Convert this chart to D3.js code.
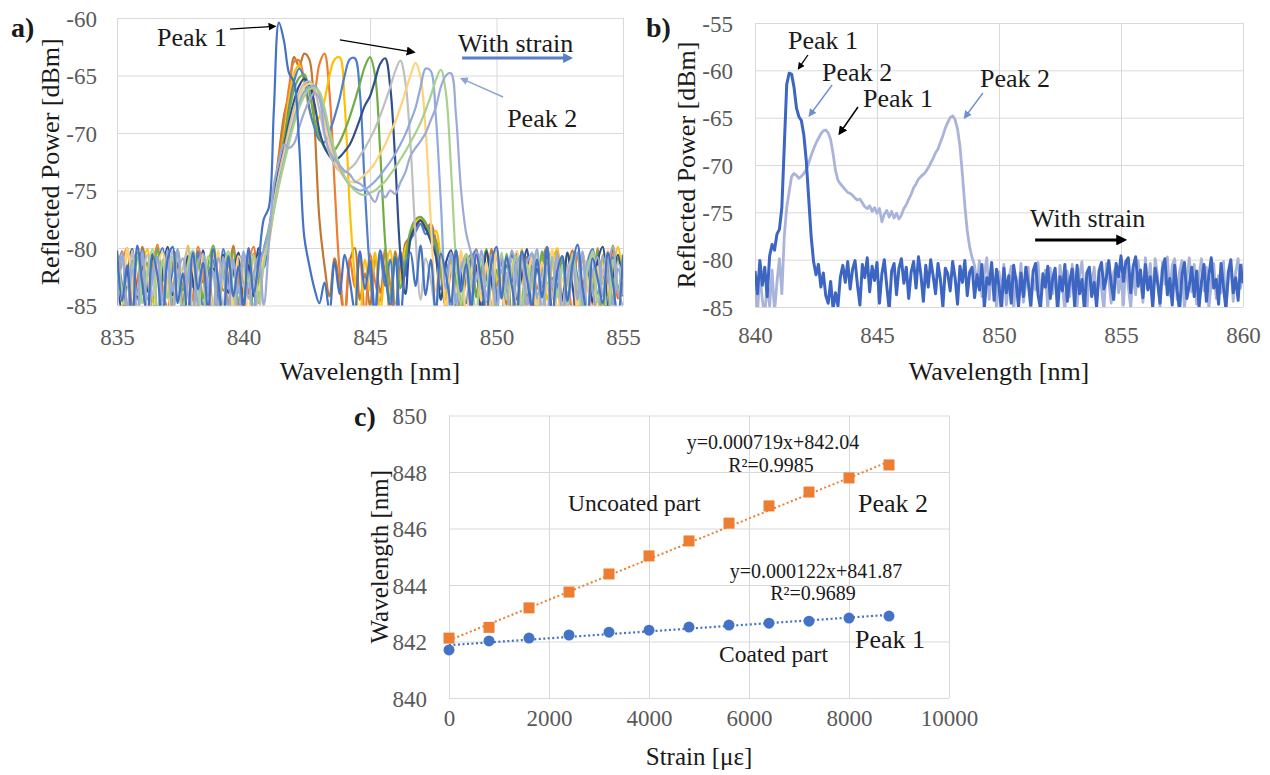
<!DOCTYPE html>
<html>
<head>
<meta charset="utf-8">
<script src="https://cdn.jsdelivr.net/npm/d3@7"></script>
<style>
  html, body { margin: 0; padding: 0; background: #ffffff; }
  svg text { font-family: "Liberation Serif", "Times New Roman", serif; }
</style>
</head>
<body>
<svg id="fig" width="1270" height="775"></svg>
<script>
// ---------------- Panel a: reflection spectra under increasing strain ----------------
const specAStart = 835, specAStep = 0.2;   // nm, sampling of the spectra in panel a
const specAColors = ["#4472C4", "#C0782E", "#ED7D31", "#FFC000", "#4F7FCB", "#70AD47",
                     "#2F4F8F", "#BFBFBF", "#FFD27A", "#8FAADC", "#A9D18E", "#9EAAD6"];

const specA0 = [
 -80.2,-84.6,-81.5,-86.5,-79.8,-83.1,-85.9,-80.6,-82.4,-87.0,
 -81.0,-79.9,-84.8,-82.2,-86.1,-80.4,-83.6,-81.3,-85.5,-80.1,
 -82.9,-86.4,-80.7,-84.2,-81.6,-85.3,-80.0,-83.9,-81.2,-77.5,
 -76.5,-68.0,-60.4,-62.0,-64.8,-65.6,-71.0,-79.0,-81.5,-83.5,
 -84.8,-83.0,-85.5,-81.2,-84.0,-80.6,-82.8,-85.4,-80.3,-83.6,
 -81.1,-85.8,-80.2,-82.5,-84.9,-80.8,-86.2,-81.7,-80.4,-83.3,
 -79.8,-84.1,-81.0,-85.6,-80.5,-82.3,-84.7,-80.2,-83.8,-81.4,
 -85.2,-80.6,-82.9,-86.0,-81.3,-79.9,-84.4,-80.8,-83.2,-85.7,
 -80.3,-82.6,-85.1,-81.0,-84.3,-80.1,-86.3,-82.0,-80.7,-84.6,
 -81.5,-79.7,-83.4,-85.9,-80.9,-82.7,-84.8,-80.4,-83.0,-86.1,
 -80.6];
const specA1 = [
 -82.1,-80.3,-85.7,-81.8,-84.4,-79.9,-82.6,-86.8,-80.9,-83.5,
 -85.2,-81.4,-80.2,-84.9,-82.0,-87.1,-80.6,-83.0,-81.9,-85.8,
 -80.4,-83.7,-82.3,-79.8,-85.4,-81.1,-84.0,-80.5,-82.7,-80.4,
 -78.6,-75.5,-71.8,-68.5,-66.5,-63.4,-64.2,-63.1,-63.6,-69.0,
 -77.5,-81.5,-84.2,-80.9,-83.3,-86.0,-81.2,-80.0,-84.5,-82.2,
 -85.1,-80.7,-83.9,-81.5,-86.4,-80.3,-82.8,-79.6,-79.0,-78.2,
 -77.6,-78.4,-77.9,-79.3,-80.8,-84.6,-81.9,-80.2,-85.3,-82.5,
 -80.9,-84.0,-81.6,-86.2,-80.1,-83.3,-82.0,-85.0,-80.4,-81.8,
 -84.7,-80.8,-82.4,-86.6,-81.3,-79.9,-83.8,-80.6,-85.4,-82.1,
 -80.2,-84.3,-81.1,-83.0,-86.5,-80.7,-82.5,-85.2,-79.8,-83.6,
 -81.2];
const specA2 = [
 -84.0,-81.2,-80.0,-85.3,-82.8,-80.7,-87.2,-81.9,-79.7,-84.1,
 -82.5,-86.0,-80.8,-83.3,-81.0,-84.6,-79.9,-82.1,-86.7,-80.3,
 -83.8,-81.5,-85.0,-80.2,-82.6,-86.3,-81.4,-79.9,-84.8,-81.0,
 -79.2,-76.0,-72.3,-69.5,-66.0,-63.8,-63.7,-65.5,-67.2,-66.5,
 -64.0,-63.1,-66.5,-74.5,-82.0,-85.6,-80.9,-83.4,-81.0,-86.0,
 -80.5,-82.9,-84.6,-80.1,-83.2,-85.9,-81.6,-80.2,-78.8,-77.9,
 -77.5,-78.1,-78.6,-80.0,-82.4,-85.2,-80.6,-83.7,-81.2,-86.1,
 -82.3,-80.1,-84.5,-81.7,-85.6,-80.5,-83.1,-82.2,-86.4,-80.8,
 -81.9,-85.3,-80.4,-83.6,-82.0,-86.9,-81.1,-80.3,-84.2,-82.9,
 -85.7,-80.6,-83.3,-81.4,-84.9,-80.0,-86.2,-82.4,-80.9,-84.4,
 -82.0];
const specA3 = [
 -81.6,-85.4,-80.3,-83.0,-86.1,-81.8,-80.1,-84.7,-82.3,-85.9,
 -80.6,-83.2,-81.5,-86.4,-79.8,-82.9,-85.1,-81.0,-83.9,-80.4,
 -86.0,-82.2,-80.9,-84.3,-81.3,-83.6,-85.8,-80.7,-82.0,-80.9,
 -79.5,-76.5,-73.0,-70.2,-67.0,-64.8,-64.1,-65.6,-68.0,-69.2,
 -68.6,-67.2,-65.0,-63.6,-63.4,-67.5,-76.5,-82.5,-86.2,-81.0,
 -83.7,-80.4,-85.5,-81.9,-80.2,-84.8,-82.6,-80.0,-79.1,-77.8,
 -77.4,-78.0,-79.2,-78.5,-81.0,-84.2,-80.8,-86.3,-82.1,-80.5,
 -84.9,-81.4,-83.5,-80.2,-86.8,-82.5,-80.9,-84.0,-81.7,-85.5,
 -80.1,-83.9,-82.3,-85.8,-80.8,-84.5,-81.6,-80.0,-86.2,-82.8,
 -81.3,-85.0,-80.4,-83.7,-82.1,-86.0,-80.6,-84.1,-81.9,-79.9,
 -83.1];
const specA4 = [
 -80.5,-83.2,-86.3,-81.1,-84.5,-80.2,-82.7,-85.6,-81.4,-80.0,
 -84.2,-82.0,-80.7,-86.9,-81.8,-83.4,-80.3,-85.2,-82.5,-81.1,
 -84.7,-80.1,-82.8,-85.7,-80.6,-83.1,-81.9,-86.1,-80.4,-81.7,
 -79.0,-76.2,-73.4,-71.0,-67.8,-65.5,-64.4,-65.2,-67.8,-69.5,
 -70.6,-70.8,-69.9,-68.6,-67.0,-65.0,-63.6,-63.5,-66.5,-75.0,
 -82.0,-85.8,-80.6,-83.3,-81.0,-86.5,-80.3,-82.4,-79.3,-78.6,
 -77.9,-78.8,-78.2,-80.4,-83.6,-81.2,-85.7,-80.7,-82.9,-84.8,
 -81.0,-80.2,-85.3,-82.6,-80.8,-84.1,-86.7,-81.5,-83.0,-80.3,
 -85.9,-81.8,-80.5,-84.4,-82.2,-79.9,-86.0,-83.2,-81.0,-84.9,
 -80.7,-82.5,-85.5,-81.2,-80.1,-84.0,-82.9,-86.3,-80.8,-83.5,
 -81.5];
const specA5 = [
 -83.4,-80.9,-82.6,-85.8,-80.4,-84.0,-81.3,-86.6,-80.0,-82.9,
 -81.2,-85.0,-80.5,-83.7,-82.1,-86.2,-80.9,-84.4,-81.6,-79.8,
 -83.0,-85.5,-81.7,-80.3,-84.6,-82.4,-80.8,-85.9,-83.2,-80.1,
 -78.3,-75.5,-72.8,-70.6,-68.2,-66.2,-65.2,-64.9,-66.4,-68.8,
 -70.3,-71.3,-71.8,-71.5,-70.8,-69.8,-68.6,-67.2,-65.7,-64.2,
 -63.4,-65.0,-71.5,-79.5,-84.5,-80.7,-83.5,-81.0,-78.5,-77.5,
 -77.3,-77.8,-78.9,-79.6,-81.8,-85.1,-80.4,-83.0,-86.3,-81.4,
 -80.6,-84.3,-82.0,-80.1,-85.6,-81.9,-83.6,-80.5,-86.1,-82.3,
 -80.9,-84.2,-81.5,-85.9,-80.3,-83.1,-82.6,-86.4,-80.7,-84.0,
 -82.2,-80.4,-85.0,-81.7,-83.9,-80.2,-86.0,-81.4,-84.6,-80.9,
 -82.7];
const specA6 = [
 -80.8,-86.0,-82.4,-80.1,-84.3,-81.6,-83.8,-80.5,-85.7,-82.0,
 -79.9,-84.1,-81.3,-86.5,-80.7,-82.8,-85.3,-80.2,-83.5,-81.8,
 -86.2,-80.6,-83.9,-82.1,-80.4,-85.1,-81.5,-84.2,-80.0,-81.3,
 -78.8,-75.8,-73.2,-71.2,-69.0,-67.2,-65.9,-65.3,-65.8,-67.4,
 -69.8,-71.2,-72.0,-72.4,-72.1,-71.6,-71.0,-70.0,-68.8,-67.6,
 -66.8,-65.4,-64.0,-63.5,-66.0,-72.5,-80.5,-84.0,-79.2,-78.1,
 -77.6,-78.3,-79.4,-80.7,-84.5,-81.3,-80.2,-85.5,-82.6,-80.9,
 -84.8,-81.5,-86.0,-80.3,-82.9,-85.2,-81.0,-83.7,-80.6,-84.5,
 -82.3,-80.1,-85.7,-81.8,-83.4,-80.7,-86.3,-82.0,-84.6,-80.4,
 -83.3,-85.9,-80.8,-82.2,-84.7,-81.1,-79.9,-85.4,-82.5,-80.6,
 -84.2];
const specA7 = [
 -84.9,-81.0,-83.3,-80.2,-86.4,-82.7,-80.6,-84.2,-81.5,-85.3,
 -82.8,-80.3,-84.6,-81.9,-80.0,-85.8,-83.1,-81.2,-86.0,-80.7,
 -82.4,-84.9,-80.5,-86.7,-81.6,-83.4,-80.2,-82.9,-85.6,-80.8,
 -78.5,-76.0,-73.6,-71.6,-69.6,-67.8,-66.5,-65.7,-65.5,-66.2,
 -68.0,-70.2,-71.8,-72.8,-73.3,-73.4,-73.1,-72.7,-72.0,-71.3,
 -70.5,-69.6,-68.5,-67.3,-66.0,-64.6,-63.7,-65.6,-71.0,-79.0,
 -84.5,-80.9,-82.8,-85.4,-80.3,-83.6,-81.7,-86.2,-80.8,-82.4,
 -85.0,-80.5,-83.2,-81.4,-86.6,-80.0,-84.1,-82.6,-80.9,-85.8,
 -81.2,-83.9,-80.4,-86.1,-82.7,-81.0,-84.4,-80.6,-85.3,-82.0,
 -80.9,-86.8,-81.6,-83.5,-80.3,-84.7,-82.2,-80.7,-85.6,-81.3,
 -83.0];
const specA8 = [
 -81.4,-84.7,-80.0,-83.1,-85.5,-80.9,-82.3,-86.8,-81.7,-80.4,
 -83.6,-85.9,-80.9,-82.5,-84.3,-81.1,-86.3,-80.6,-82.9,-85.1,
 -80.2,-83.3,-81.8,-85.4,-80.7,-82.1,-86.5,-81.0,-83.7,-80.5,
 -78.9,-76.4,-74.0,-72.0,-70.0,-68.3,-66.9,-66.0,-65.7,-65.9,
 -67.0,-69.0,-70.9,-72.3,-73.3,-73.9,-74.2,-74.3,-74.0,-73.6,
 -73.2,-72.6,-71.8,-71.0,-70.0,-69.0,-67.8,-66.4,-65.0,-63.9,
 -65.2,-69.8,-77.5,-83.8,-80.6,-85.2,-81.5,-83.9,-80.2,-86.4,
 -82.1,-80.8,-84.6,-81.3,-85.9,-80.4,-83.0,-86.2,-81.7,-80.3,
 -84.8,-82.4,-80.9,-85.6,-81.2,-83.7,-80.1,-86.0,-82.6,-84.3,
 -81.0,-85.3,-80.5,-82.8,-86.5,-81.6,-84.0,-80.2,-83.4,-85.7,
 -80.8];
const specA9 = [
 -85.0,-80.7,-82.9,-81.2,-86.2,-80.3,-84.5,-82.1,-80.8,-85.7,
 -81.5,-83.8,-80.1,-86.0,-82.6,-80.5,-84.9,-81.3,-83.2,-86.6,
 -80.9,-82.2,-85.3,-81.0,-83.9,-80.4,-82.7,-85.8,-81.6,-80.2,
 -78.7,-76.6,-74.3,-72.4,-70.5,-68.8,-67.4,-66.4,-66.0,-65.9,
 -66.5,-68.3,-70.2,-71.8,-73.0,-73.9,-74.5,-74.8,-75.0,-74.9,
 -74.6,-74.2,-73.7,-73.1,-72.5,-71.8,-71.0,-70.1,-69.0,-67.8,
 -66.0,-64.4,-64.6,-68.5,-76.0,-83.5,-80.4,-84.8,-81.9,-80.6,
 -85.6,-80.3,-82.8,-84.7,-80.6,-86.3,-81.9,-83.4,-80.2,-82.5,
 -85.1,-81.3,-80.5,-84.2,-82.9,-86.7,-80.8,-83.0,-81.6,-85.4,
 -82.0,-80.4,-84.8,-81.1,-83.6,-86.1,-80.7,-82.3,-85.0,-81.8,
 -84.1];
const specA10 = [
 -80.3,-83.7,-85.9,-81.8,-80.6,-84.8,-82.2,-80.1,-86.3,-81.0,
 -84.4,-80.8,-82.7,-85.5,-81.4,-80.2,-83.5,-86.8,-80.7,-82.3,
 -85.2,-81.7,-80.3,-84.0,-86.4,-81.2,-83.0,-80.6,-84.7,-81.5,
 -79.3,-76.8,-74.6,-72.7,-70.9,-69.2,-67.8,-66.8,-66.2,-66.1,
 -66.4,-67.8,-69.8,-71.5,-72.8,-73.8,-74.5,-75.0,-75.3,-75.4,
 -75.2,-75.0,-74.6,-74.2,-73.6,-73.0,-72.3,-71.6,-70.8,-70.0,
 -69.1,-68.0,-66.8,-65.4,-64.5,-66.5,-73.0,-81.0,-84.9,-80.5,
 -82.8,-85.7,-80.9,-83.3,-81.2,-86.0,-80.4,-84.5,-82.0,-80.7,
 -85.8,-81.4,-83.6,-80.2,-86.6,-82.1,-80.9,-84.3,-81.5,-85.0,
 -80.6,-83.1,-85.4,-81.8,-80.3,-84.6,-82.7,-86.2,-81.0,-83.8,
 -80.5];
const specA11 = [
 -82.6,-80.4,-85.3,-81.9,-84.1,-80.6,-86.0,-82.8,-81.1,-84.6,
 -80.2,-85.8,-82.4,-80.9,-83.9,-86.5,-81.3,-80.5,-84.2,-82.0,
 -85.4,-80.8,-83.6,-81.5,-86.1,-80.3,-84.4,-82.2,-80.7,-85.0,
 -79.8,-74.5,-72.5,-71.0,-71.3,-70.9,-69.5,-68.2,-67.2,-66.5,
 -67.0,-70.0,-71.6,-72.3,-72.8,-73.3,-73.6,-74.2,-74.4,-74.8,
 -75.4,-76.0,-75.0,-75.6,-75.0,-75.3,-74.3,-73.4,-72.0,-71.3,
 -70.7,-70.0,-68.9,-67.8,-66.0,-65.0,-64.8,-68.5,-75.0,-78.7,
 -80.5,-82.9,-80.2,-84.3,-81.6,-85.5,-80.9,-83.2,-86.3,-81.4,
 -80.6,-84.9,-82.3,-80.1,-85.7,-81.8,-83.4,-80.4,-86.0,-82.6,
 -81.2,-84.5,-80.3,-85.9,-82.1,-80.8,-84.2,-81.5,-79.9,-83.7,
 -85.1];
const specASeries = [specA0, specA1, specA2, specA3, specA4, specA5,
                     specA6, specA7, specA8, specA9, specA10, specA11];

// ---------------- Panel b: spectrum without strain and at maximum strain ----------------
const specBStart = 840, specBStep = 0.1;
const specBDark = [
 -81.2,-83.6,-80.1,-82.7,-80.8,-83.9,-79.6,-78.4,-79.0,-77.3,
 -76.8,-74.5,-68.0,-61.5,-60.3,-60.4,-61.8,-64.0,-64.9,-65.3,
 -66.8,-69.5,-73.5,-77.5,-80.2,-81.6,-80.5,-82.9,-81.4,-83.8,
 -84.6,-82.3,-85.2,-83.5,-84.9,-81.8,-80.6,-82.4,-80.2,-83.1,
 -81.0,-80.1,-82.7,-84.8,-80.5,-81.9,-79.8,-83.4,-80.7,-82.2,
 -80.3,-84.6,-81.5,-80.0,-82.8,-85.3,-81.2,-80.4,-83.7,-80.9,
 -79.9,-82.5,-80.8,-84.1,-81.3,-80.2,-83.0,-79.7,-81.6,-84.4,
 -80.6,-82.9,-80.0,-81.7,-83.6,-80.4,-82.1,-85.0,-80.9,-81.5,
 -83.3,-80.2,-81.9,-84.7,-80.7,-82.4,-80.1,-83.8,-81.3,-80.8,
 -84.0,-81.6,-83.2,-80.5,-85.1,-81.9,-82.6,-80.3,-84.3,-81.0,
 -82.8,-85.4,-80.9,-83.5,-81.7,-84.6,-80.6,-82.3,-85.0,-81.4,
 -83.9,-80.8,-82.5,-84.8,-81.2,-80.4,-83.7,-85.2,-81.5,-82.9,
 -80.7,-84.1,-82.0,-80.9,-85.5,-81.8,-83.3,-80.5,-84.4,-82.2,
 -81.0,-84.9,-80.6,-83.6,-82.1,-85.3,-81.4,-80.8,-83.9,-82.4,
 -85.0,-81.2,-80.3,-83.1,-81.9,-80.1,-82.6,-84.2,-80.4,-81.8,
 -79.6,-82.3,-80.2,-79.8,-83.5,-80.7,-79.7,-82.8,-81.1,-84.0,
 -80.5,-83.2,-81.8,-85.1,-80.9,-82.4,-84.6,-81.0,-79.9,-83.7,
 -82.0,-84.8,-80.6,-83.3,-85.4,-81.5,-80.3,-84.1,-82.7,-80.8,
 -83.9,-81.2,-85.0,-82.3,-80.5,-84.4,-81.7,-79.8,-83.0,-82.1,
 -84.7,-80.4,-82.9,-85.2,-81.3,-80.0,-83.5,-81.9,-84.3,-80.6,
 -82.5];
const specBLight = [
 -83.0,-85.6,-81.5,-84.2,-86.0,-82.3,-84.9,-81.1,-85.5,-82.4,
 -79.9,-83.6,-77.5,-74.5,-72.8,-71.2,-70.9,-71.1,-71.4,-71.2,
 -70.9,-70.5,-69.8,-69.0,-68.3,-67.7,-67.2,-66.7,-66.4,-66.3,
 -66.6,-67.3,-68.8,-70.6,-71.6,-72.0,-72.3,-72.6,-72.9,-73.0,
 -73.2,-73.5,-73.7,-73.6,-74.0,-74.4,-74.6,-74.3,-74.9,-74.5,
 -75.1,-74.6,-76.0,-75.2,-74.8,-75.5,-74.9,-75.6,-75.1,-75.7,
 -75.3,-74.6,-74.2,-73.6,-73.1,-72.4,-72.0,-71.5,-71.2,-71.0,
 -70.7,-70.3,-69.8,-69.3,-68.7,-68.3,-67.6,-66.9,-66.1,-65.5,
 -65.0,-64.8,-65.2,-66.2,-68.0,-71.0,-74.3,-77.0,-78.7,-79.8,
 -80.6,-82.8,-80.1,-83.9,-81.5,-79.8,-84.2,-80.9,-82.4,-85.1,
 -81.3,-83.7,-80.5,-84.8,-82.0,-80.7,-85.3,-81.8,-83.4,-80.4,
 -84.5,-82.6,-80.8,-85.6,-81.9,-83.2,-80.3,-84.0,-82.5,-81.1,
 -85.2,-80.9,-83.6,-81.4,-84.7,-80.6,-82.8,-85.5,-81.2,-83.9,
 -80.5,-82.3,-84.9,-81.6,-80.2,-83.8,-85.7,-81.0,-82.7,-80.8,
 -84.3,-81.5,-83.0,-85.4,-80.4,-82.2,-84.6,-81.3,-80.7,-83.5,
 -81.8,-84.8,-80.2,-82.9,-85.1,-81.0,-83.7,-80.1,-82.4,-84.5,
 -79.8,-83.1,-80.4,-84.6,-79.9,-81.7,-85.0,-80.3,-82.6,-79.7,
 -83.8,-80.6,-79.9,-84.2,-81.2,-80.1,-85.3,-82.0,-79.8,-83.4,
 -80.5,-84.7,-81.6,-79.9,-83.3,-80.8,-85.2,-82.3,-80.4,-84.1,
 -81.7,-83.5,-80.2,-85.0,-82.1,-80.6,-84.4,-81.3,-79.9,-83.0,
 -80.4];

// ---------------- Panel c: peak wavelength versus strain ----------------
const strainSteps = [0, 800, 1600, 2400, 3200, 4000, 4800, 5600, 6400, 7200, 8000, 8800];
const peak2Uncoated = [842.12, 842.50, 843.19, 843.75, 844.39, 845.03, 845.56, 846.19, 846.80, 847.29, 847.79, 848.25];
const peak1Coated   = [841.70, 842.02, 842.12, 842.23, 842.33, 842.40, 842.51, 842.58, 842.65, 842.72, 842.83, 842.90];
const fitUncoatedSlope = 0.000719, fitUncoatedIntercept = 842.04, fitUncoatedR2 = "0.9985";
const fitCoatedSlope = 0.000122, fitCoatedIntercept = 841.87, fitCoatedR2 = "0.9689";

// axis ticks
const ticksAX = [835, 840, 845, 850, 855];
const ticksAY = [-85, -80, -75, -70, -65, -60];
const ticksBX = [840, 845, 850, 855, 860];
const ticksBY = [-85, -80, -75, -70, -65, -60, -55];
const ticksCX = [0, 2000, 4000, 6000, 8000, 10000];
const ticksCY = [840, 842, 844, 846, 848, 850];

// ---------------- drawing ----------------
const svg = d3.select("#fig");
const defs = svg.append("defs");
const GRID = "#d9d9d9", TICK = "#595959", INK = "#1a1a1a";
const SERIF = '"Liberation Serif", "Times New Roman", serif';

function styleTicks(sel, size) {
  sel.attr("font-family", null).attr("font-size", null);
  sel.selectAll(".tick text").style("font-family", SERIF).style("font-size", size + "px")
    .attr("fill", TICK);
}

function buildPanel(o) {
  const x = d3.scaleLinear().domain(o.xDomain).range([o.left, o.right]);
  const y = d3.scaleLinear().domain(o.yDomain).range([o.bottom, o.top]);
  const g = svg.append("g");
  const gx = g.append("g").attr("transform", `translate(0,${o.bottom})`)
    .call(d3.axisBottom(x).tickValues(o.xTicks).tickSize(-(o.bottom - o.top)).tickFormat(d => String(d)));
  gx.select(".domain").remove();
  gx.selectAll(".tick line").attr("stroke", GRID).attr("stroke-width", 1);
  gx.selectAll(".tick text").attr("y", o.xLabelOffset).attr("dy", "0.35em");
  styleTicks(gx, o.tickSize);
  const gy = g.append("g").attr("transform", `translate(${o.left},0)`)
    .call(d3.axisLeft(y).tickValues(o.yTicks).tickSize(-(o.right - o.left)).tickFormat(d => String(d)));
  gy.select(".domain").remove();
  gy.selectAll(".tick line").attr("stroke", GRID).attr("stroke-width", 1);
  gy.selectAll(".tick text").attr("x", -o.yLabelOffset).attr("dy", "0.35em");
  styleTicks(gy, o.tickSize);
  // axis titles
  svg.append("text").attr("x", (o.left + o.right) / 2).attr("y", o.xTitleY).attr("dy", "0.35em")
    .attr("text-anchor", "middle").attr("font-size", o.titleSize).attr("fill", INK).text(o.xTitle);
  svg.append("text").attr("transform", `translate(${o.yTitleX},${(o.top + o.bottom) / 2}) rotate(-90)`)
    .attr("dy", "0.35em").attr("text-anchor", "middle").attr("font-size", o.titleSize).attr("fill", INK).text(o.yTitle);
  // panel tag
  svg.append("text").attr("x", o.tagX).attr("y", o.tagY).attr("font-size", 28).attr("font-weight", "bold")
    .attr("fill", INK).text(o.tag);
  const clipId = "clip-" + o.tag.replace(")", "");
  defs.append("clipPath").attr("id", clipId).append("rect")
    .attr("x", o.left).attr("y", o.top).attr("width", o.right - o.left).attr("height", o.bottom - o.top);
  const plot = svg.append("g").attr("clip-path", `url(#${clipId})`);
  return { x, y, plot };
}

let arrowCount = 0;
function arrow(p, x1, y1, x2, y2, color, width, head) {
  const id = "arrowhead" + (arrowCount++);
  defs.append("marker").attr("id", id).attr("viewBox", "0 0 10 10").attr("refX", 7).attr("refY", 5)
    .attr("markerWidth", head).attr("markerHeight", head).attr("markerUnits", "userSpaceOnUse")
    .attr("orient", "auto").append("path").attr("d", "M0,0L10,5L0,10z").attr("fill", color);
  svg.append("line").attr("x1", p.x(x1)).attr("y1", p.y(y1)).attr("x2", p.x(x2)).attr("y2", p.y(y2))
    .attr("stroke", color).attr("stroke-width", width).attr("marker-end", `url(#${id})`);
}
function label(p, xv, yv, txt, size, anchor) {
  return svg.append("text").attr("x", p.x(xv)).attr("y", p.y(yv)).attr("font-size", size)
    .attr("text-anchor", anchor || "start").attr("fill", INK).text(txt);
}

// ----- panel a -----
const pa = buildPanel({
  xDomain: [835, 855], yDomain: [-85, -60], left: 117, right: 623, top: 18, bottom: 305.5,
  xTicks: ticksAX, yTicks: ticksAY, tickSize: 23, xLabelOffset: 31, yLabelOffset: 20,
  xTitle: "Wavelength [nm]", xTitleY: 371, yTitle: "Reflected Power [dBm]", yTitleX: 50, titleSize: 26,
  tag: "a)", tagX: 11, tagY: 37
});
const lineA = d3.line().curve(d3.curveCatmullRom.alpha(0.5))
  .x((d, i) => pa.x(specAStart + i * specAStep)).y(d => pa.y(d));
const orderA = [1, 2, 3, 4, 5, 6, 7, 8, 9, 10, 11, 0];
pa.plot.selectAll("path.specA").data(orderA).join("path").attr("class", "specA")
  .attr("d", k => lineA(specASeries[k])).attr("fill", "none")
  .attr("stroke", k => specAColors[k]).attr("stroke-width", 2.2).attr("stroke-linejoin", "round");

label(pa, 836.58, -62.43, "Peak 1", 26);
arrow(pa, 839.47, -60.96, 841.21, -60.72, "#000000", 1.3, 8);
arrow(pa, 843.81, -61.91, 846.70, -62.96, "#000000", 1.3, 9);
label(pa, 848.48, -62.96, "With strain", 26);
arrow(pa, 848.64, -63.48, 852.91, -63.48, "#5B7FC7", 3, 10);
label(pa, 850.42, -69.48, "Peak 2", 26);
arrow(pa, 850.26, -66.87, 848.64, -65.30, "#8FA3D4", 1.4, 8);

// ----- panel b -----
const pb = buildPanel({
  xDomain: [840, 860], yDomain: [-85, -55], left: 755, right: 1243, top: 23, bottom: 307,
  xTicks: ticksBX, yTicks: ticksBY, tickSize: 23, xLabelOffset: 28, yLabelOffset: 22,
  xTitle: "Wavelength [nm]", xTitleY: 371, yTitle: "Reflected Power [dBm]", yTitleX: 686, titleSize: 26,
  tag: "b)", tagX: 646, tagY: 37
});
const lineB = d3.line().x((d, i) => pb.x(specBStart + i * specBStep)).y(d => pb.y(d));
pb.plot.append("path").attr("d", lineB(specBLight)).attr("fill", "none")
  .attr("stroke", "#AAB4DA").attr("stroke-width", 2.8).attr("stroke-linejoin", "round");
pb.plot.append("path").attr("d", lineB(specBDark)).attr("fill", "none")
  .attr("stroke", "#3D66C2").attr("stroke-width", 3).attr("stroke-linejoin", "round");

label(pb, 841.35, -57.75, "Peak 1", 26);
arrow(pb, 842.17, -58.38, 841.80, -59.75, "#000000", 1.3, 7);
label(pb, 842.75, -61.13, "Peak 2", 26);
arrow(pb, 843.16, -61.55, 842.25, -64.72, "#6F8FD0", 1.4, 8);
label(pb, 844.43, -63.87, "Peak 1", 26);
arrow(pb, 844.22, -63.87, 843.48, -66.62, "#000000", 1.5, 9);
label(pb, 849.22, -61.76, "Peak 2", 26);
arrow(pb, 849.34, -62.39, 848.61, -64.93, "#6F8FD0", 1.4, 8);
label(pb, 851.27, -76.55, "With strain", 26);
arrow(pb, 851.48, -77.92, 855.12, -77.92, "#000000", 3, 11);

// ----- panel c -----
const pc = buildPanel({
  xDomain: [0, 10000], yDomain: [840, 850], left: 449, right: 949, top: 415.5, bottom: 698,
  xTicks: ticksCX, yTicks: ticksCY, tickSize: 23, xLabelOffset: 20, yLabelOffset: 22,
  xTitle: "Strain [\u03bc\u03b5]", xTitleY: 756, yTitle: "Wavelength [nm]", yTitleX: 379, titleSize: 25,
  tag: "c)", tagX: 354, tagY: 426
});
const strainEnd = d3.max(strainSteps);
const fitLine = d3.line().x(d => pc.x(d[0])).y(d => pc.y(d[1]));
svg.append("path").attr("d", fitLine([[0, fitUncoatedIntercept], [strainEnd, fitUncoatedIntercept + fitUncoatedSlope * strainEnd]]))
  .attr("stroke", "#ED7D31").attr("stroke-width", 2).attr("stroke-dasharray", "2,2.5").attr("fill", "none");
svg.append("path").attr("d", fitLine([[0, fitCoatedIntercept], [strainEnd, fitCoatedIntercept + fitCoatedSlope * strainEnd]]))
  .attr("stroke", "#4472C4").attr("stroke-width", 2.2).attr("stroke-dasharray", "2,2.5").attr("fill", "none");

svg.append("g").selectAll("circle").data(strainSteps).join("circle")
  .attr("cx", (d) => pc.x(d)).attr("cy", (d, i) => pc.y(peak1Coated[i])).attr("r", 5.5)
  .attr("fill", "#4472C4");
svg.append("g").selectAll("rect").data(strainSteps).join("rect")
  .attr("x", d => pc.x(d) - 5.5).attr("y", (d, i) => pc.y(peak2Uncoated[i]) - 5.5)
  .attr("width", 11).attr("height", 11).attr("fill", "#ED7D31");

label(pc, 6480, 848.81, `y=${fitUncoatedSlope.toFixed(6)}x+${fitUncoatedIntercept.toFixed(2)}`, 20, "middle");
label(pc, 6440, 848.0, `R\u00b2=${fitUncoatedR2}`, 20, "middle");
label(pc, 2380, 846.62, "Uncoated part", 23.5);
label(pc, 8180, 846.58, "Peak 2", 26);
label(pc, 7340, 844.25, `y=${fitCoatedSlope.toFixed(6)}x+${fitCoatedIntercept.toFixed(2)}`, 20, "middle");
label(pc, 7280, 843.47, `R\u00b2=${fitCoatedR2}`, 20, "middle");
label(pc, 8120, 841.77, "Peak 1", 26);
label(pc, 5400, 841.27, "Coated part", 23.5);
</script>
</body>
</html>
